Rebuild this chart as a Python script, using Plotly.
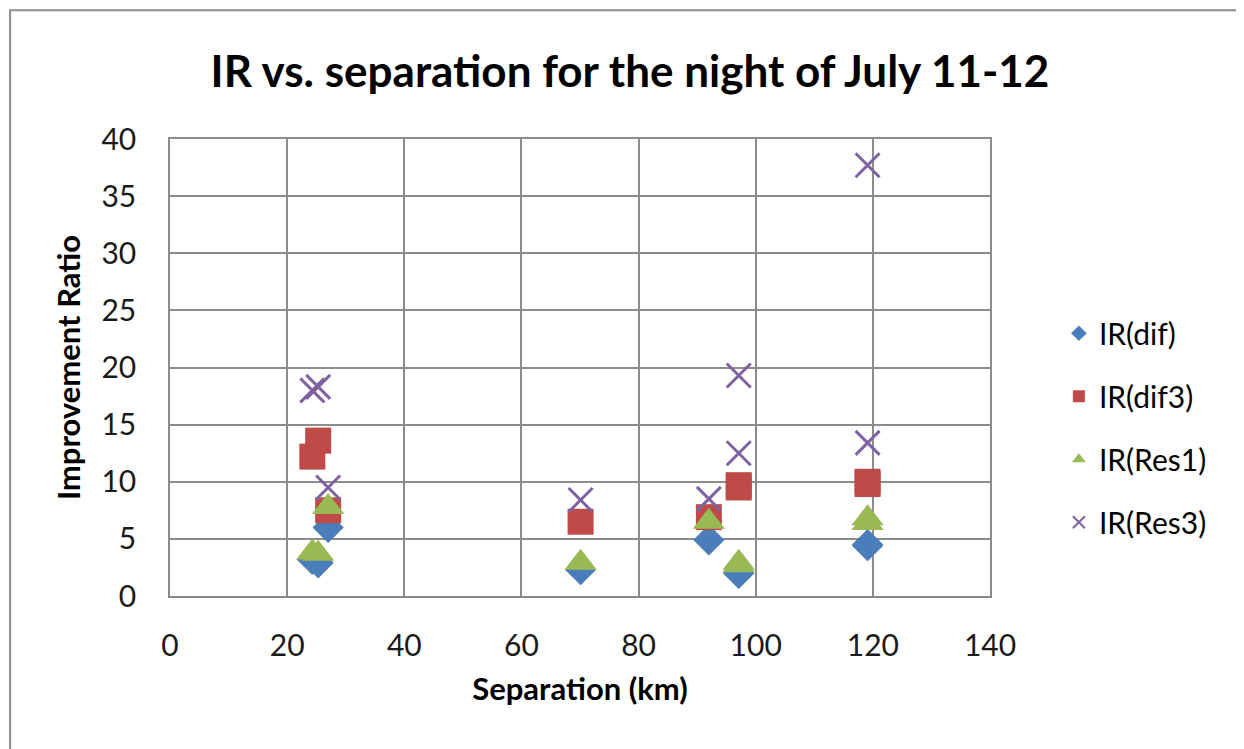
import plotly.graph_objects as go

separation = [24.3, 25.3, 27.0, 70.1, 92.0, 97.1, 97.1, 119.1, 119.1]
ir_dif = [3.2, 2.9, 6.0, 2.3, 4.9, 2.0, 2.0, 4.4, 4.5]
ir_dif3 = [12.2, 13.6, 7.5, 6.5, 6.9, 9.7, 9.5, 10.0, 9.8]
ir_res1 = [3.8, 3.7, 7.8, 2.9, 6.5, 2.7, 2.9, 6.4, 6.8]
ir_res3 = [18.0, 18.3, 9.5, 8.4, 8.5, 19.3, 12.5, 37.7, 13.4]

x_ticks = [0, 20, 40, 60, 80, 100, 120, 140]
y_ticks = [0, 5, 10, 15, 20, 25, 30, 35, 40]

FONT = "Lato, 'Open Sans', sans-serif"

fig = go.Figure()
fig.add_trace(go.Scatter(x=separation, y=ir_dif, mode="markers", name="IR(dif)", legendgroup="a",
                         marker=dict(symbol="diamond", size=24, color="#4A7EBB", line=dict(width=0))))
fig.add_trace(go.Scatter(x=separation, y=ir_dif3, mode="markers", name="IR(dif3)", legendgroup="b",
                         marker=dict(symbol="square", size=26, color="#BE4B48", line=dict(width=0))))
fig.add_trace(go.Scatter(x=separation, y=ir_res1, mode="markers", name="IR(Res1)", legendgroup="c",
                         marker=dict(symbol="triangle-up", size=28, color="#98B954", line=dict(width=0))))
fig.add_trace(go.Scatter(x=separation, y=ir_res3, mode="markers", name="IR(Res3)", legendgroup="d",
                         marker=dict(symbol="x-thin-open", size=24, color="#7F63A1",
                                     line=dict(width=3, color="#7F63A1"))))

fig.update_layout(
    width=1244, height=749,
    paper_bgcolor="white", plot_bgcolor="white",
    margin=dict(l=162, r=262, t=131, b=161),
    font=dict(family=FONT, size=30, color="#000000"),
    title=dict(text="<b>IR vs. separation for the night of July 11-12</b>",
               x=0.5, xanchor="center", y=0.9146, yanchor="middle",
               font=dict(size=44, family=FONT, color="#000000")),
    showlegend=True,
    legend=dict(x=1.084, xanchor="left", y=0.368, yanchor="middle",
                font=dict(size=30, family=FONT), tracegroupgap=21,
                itemsizing="constant", bgcolor="rgba(0,0,0,0)"),
    shapes=[dict(type="rect", xref="paper", yref="paper",
                 x0=-0.195, x1=1.6, y0=-0.6, y1=1.282,
                 line=dict(color="#8C8C8C", width=2), fillcolor="rgba(0,0,0,0)", layer="below")],
)
fig.update_xaxes(range=[0, 140], tickvals=x_ticks, showgrid=True, gridcolor="#8C8C8C", gridwidth=1.5,
                 zeroline=False, showline=True, linecolor="#8C8C8C", linewidth=1.5, mirror=True,
                 ticks="", ticklabelstandoff=22, tickfont=dict(size=30, color="#1a1a1a"),
                 title=dict(text="<b>Separation (km)</b>", font=dict(size=31, family=FONT), standoff=18))
fig.update_yaxes(range=[0, 40], tickvals=y_ticks, showgrid=True, gridcolor="#8C8C8C", gridwidth=1.5,
                 zeroline=False, showline=True, linecolor="#8C8C8C", linewidth=1.5, mirror=True,
                 ticks="", ticklabelstandoff=26, tickfont=dict(size=30, color="#1a1a1a"),
                 title=dict(text="<b>Improvement Ratio</b>", font=dict(size=31, family=FONT), standoff=12))

fig.write_html("out.html")
